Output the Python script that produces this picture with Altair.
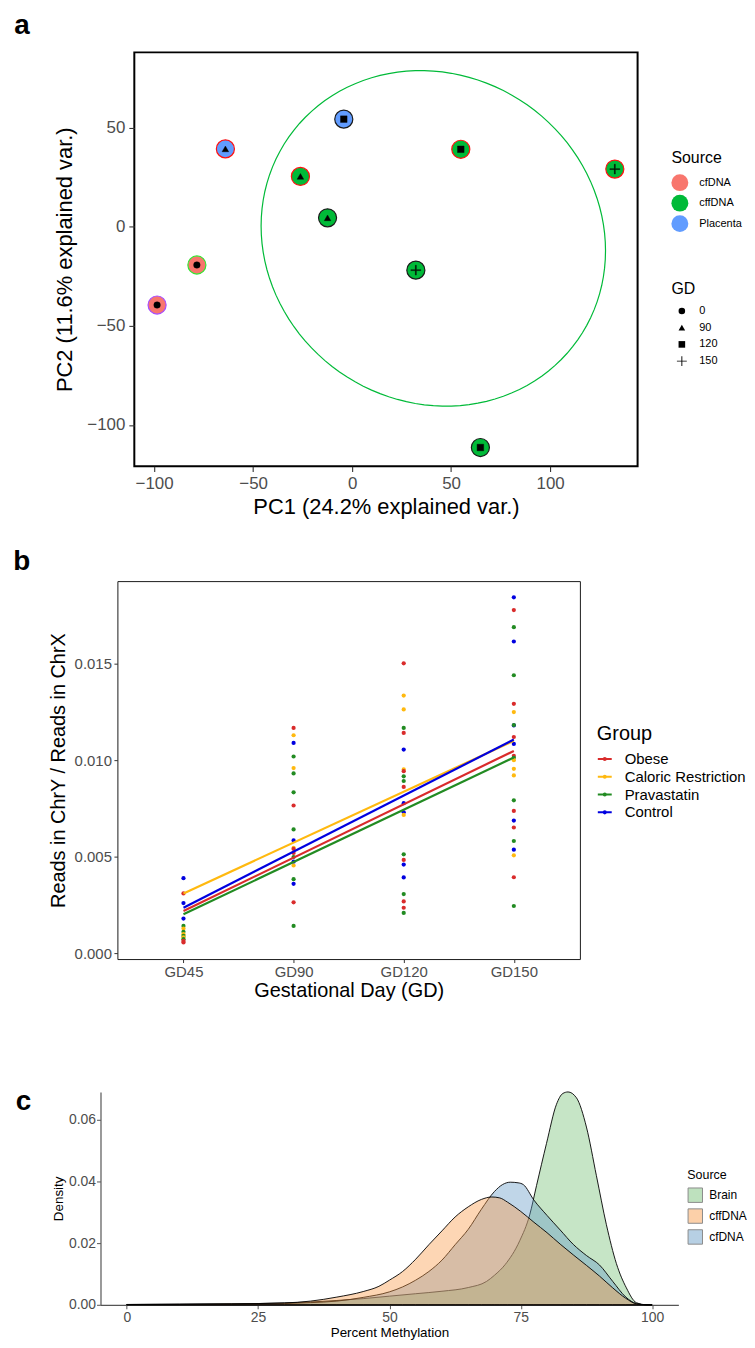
import altair as alt
import numpy as np
import pandas as pd

FONT = "Liberation Sans"
GREY = "#4D4D4D"

# ---------------- Panel a : PCA ----------------
pc1 = [-98.5, -78.4, -64.0, -26.1, -12.4, -4.2, 54.9, 132.7, 32.2, 64.8]
pc2 = [-39.5, -19.3, 39.3, 25.4, 4.5, 54.3, 39.1, 29.1, -21.9, -111.4]
source_a = ["cfDNA", "cfDNA", "Placenta", "cffDNA", "cffDNA", "Placenta",
            "cffDNA", "cffDNA", "cffDNA", "cffDNA"]
gd_a = [0, 0, 90, 90, 90, 120, 120, 150, 150, 120]
ring_a = ["g4", "g3", "g1", "g1", "g2", "g2", "g1", "g1", "g2", "g2"]
source_levels = ["cfDNA", "cffDNA", "Placenta"]
gd_levels = [0, 90, 120, 150]
ellipse_group = "cffDNA"
ellipse_prob = 0.68

dfa = pd.DataFrame({"PC1": pc1, "PC2": pc2, "Source": source_a, "GD": gd_a, "Ring": ring_a})

# normal-probability ellipse of the cffDNA group (as ggbiplot does)
sel = dfa[dfa["Source"] == ellipse_group][["PC1", "PC2"]].to_numpy()
mu = sel.mean(axis=0)
sigma = np.cov(sel.T)
ed = np.sqrt(-2.0 * np.log(1.0 - ellipse_prob))
theta = np.linspace(-np.pi, np.pi, 121)
circ = np.column_stack([np.cos(theta), np.sin(theta)])
ell = circ @ np.linalg.cholesky(sigma).T * ed + mu
dfe = pd.DataFrame({"PC1": ell[:, 0], "PC2": ell[:, 1], "i": np.arange(len(theta))})

SPACER_A, SPACER_B, SPACER_C = 35, 18, 1

xa = alt.Scale(domain=[-110, 144.2], nice=False, zero=False)
ya = alt.Scale(domain=[-120.8, 88], nice=False, zero=False)
axis_a_common = dict(grid=False, domain=False, tickColor="#333333", tickSize=5.5, tickWidth=1.1,
                     labelFontSize=17, labelColor=GREY, titleFontSize=22,
                     titleFontWeight="normal", titleColor="black")
xaxis_a = alt.Axis(title="PC1 (24.2% explained var.)", values=[-100, -50, 0, 50, 100],
                   labelPadding=3.5, titlePadding=6, **axis_a_common)
yaxis_a = alt.Axis(title="PC2 (11.6% explained var.)", values=[-100, -50, 0, 50],
                   labelPadding=4, titlePadding=10, **axis_a_common)

ellipse = alt.Chart(dfe).mark_line(color="#00BA38", strokeWidth=1.2).encode(
    x=alt.X("PC1:Q", scale=xa, axis=xaxis_a),
    y=alt.Y("PC2:Q", scale=ya, axis=yaxis_a),
    order="i:Q",
)

rings = alt.Chart(dfa).mark_point(filled=True, size=330, strokeWidth=1.2, opacity=1).encode(
    x=alt.X("PC1:Q", scale=xa, axis=xaxis_a),
    y=alt.Y("PC2:Q", scale=ya, axis=yaxis_a),
    color=alt.Color("Source:N",
                    scale=alt.Scale(domain=source_levels, range=["#F8766D", "#00BA38", "#619CFF"]),
                    legend=alt.Legend(title="Source", orient="none", legendX=540 + SPACER_A,
                                      legendY=98, padding=0, titleFontSize=16,
                                      titleFontWeight="normal", titleColor="black",
                                      titlePadding=8.5, labelFontSize=11, labelColor="black",
                                      labelOffset=11, symbolType="circle", symbolSize=289,
                                      symbolStrokeWidth=0, rowPadding=3.6)),
    stroke=alt.Stroke("Ring:N",
                      scale=alt.Scale(domain=["g1", "g2", "g3", "g4"],
                                      range=["#FF1010", "#1A1A1A", "#33E633", "#A64DFF"]),
                      legend=None),
)

# thin filled plus sign (ggplot shape 3)
PLUS = ("M-1.5,-0.14H-0.14V-1.5H0.14V-0.14H1.5V0.14H0.14V1.5H-0.14V0.14H-1.5Z")
shapes = alt.Chart(dfa).mark_point(filled=True, size=44, strokeWidth=0.4, opacity=1).encode(
    x=alt.X("PC1:Q", scale=xa, axis=xaxis_a),
    y=alt.Y("PC2:Q", scale=ya, axis=yaxis_a),
    fill=alt.value("black"),
    stroke=alt.value("black"),
    shape=alt.Shape("GD:N",
                    scale=alt.Scale(domain=gd_levels, range=["circle", "triangle-up", "square", PLUS]),
                    legend=alt.Legend(title="GD", orient="none", legendX=540 + SPACER_A,
                                      legendY=230, padding=0, titleFontSize=16,
                                      titleFontWeight="normal", titleColor="black",
                                      titlePadding=8.5, labelFontSize=11, labelColor="black",
                                      labelOffset=12, symbolSize=44, symbolOffset=5,
                                      symbolFillColor="black", symbolStrokeColor="black",
                                      symbolStrokeWidth=0.4, rowPadding=4.8)),
)


def panel_label(letter, dx, dy):
    return alt.Chart(pd.DataFrame({"panel": [letter]})).mark_text(
        fontSize=28, fontWeight="bold", align="left", baseline="alphabetic", color="black"
    ).encode(text="panel:N", x=alt.value(dx), y=alt.value(dy))


def spacer(w):
    return alt.Chart(pd.DataFrame({"v": [0]})).mark_point(opacity=0).encode(
        x=alt.value(0), y=alt.value(0)).properties(width=w, height=10)


chartA = alt.layer(ellipse, rings, shapes, panel_label("a", -120.6, -18)).properties(
    width=506, height=416, view=alt.ViewBackground(stroke="black", strokeWidth=2))

# ---------------- Panel b : ChrY / ChrX ----------------
gd_cats = ["GD45", "GD90", "GD120", "GD150"]
groups = ["Obese", "Caloric Restriction", "Pravastatin", "Control"]
group_colors = ["#D92B2B", "#FFB90F", "#228B22", "#0000E0"]

gd45_vals = [0.00388, 0.00309, 0.00259, 0.00179, 0.00141, 0.00127, 0.00110, 0.00098,
             0.00089, 0.00081, 0.00072, 0.00063, 0.00055]
gd45_grp = ["Control", "Obese", "Control", "Control", "Pravastatin", "Caloric Restriction",
            "Pravastatin", "Caloric Restriction", "Pravastatin", "Caloric Restriction",
            "Pravastatin", "Obese", "Obese"]
gd90_vals = [0.01167, 0.01129, 0.01089, 0.01019, 0.00959, 0.00931, 0.00833, 0.00765, 0.00641,
             0.00584, 0.00545, 0.00540, 0.00519, 0.00498, 0.00474, 0.00454, 0.00383, 0.00359,
             0.00263, 0.00141]
gd90_grp = ["Obese", "Caloric Restriction", "Control", "Pravastatin", "Caloric Restriction",
            "Pravastatin", "Pravastatin", "Obese", "Pravastatin", "Control",
            "Caloric Restriction", "Obese", "Obese", "Pravastatin", "Control",
            "Caloric Restriction", "Pravastatin", "Control", "Obese", "Pravastatin"]
gd120_vals = [0.01502, 0.01335, 0.01263, 0.01167, 0.01141, 0.01055, 0.00952, 0.00943, 0.00916,
              0.00892, 0.00861, 0.00777, 0.00730, 0.00716, 0.00512, 0.00483, 0.00459, 0.00392,
              0.00306, 0.00268, 0.00235, 0.00208]
gd120_grp = ["Obese", "Caloric Restriction", "Caloric Restriction", "Pravastatin", "Obese",
             "Control", "Caloric Restriction", "Obese", "Pravastatin", "Pravastatin", "Obese",
             "Control", "Control", "Caloric Restriction", "Pravastatin", "Obese", "Control",
             "Control", "Pravastatin", "Obese", "Obese", "Pravastatin"]
gd150_vals = [0.01844, 0.01778, 0.01689, 0.01615, 0.01440, 0.01292, 0.01249, 0.01180, 0.01182,
              0.01120, 0.01084, 0.01022, 0.01012, 0.01000, 0.00955, 0.00921, 0.00792, 0.00737,
              0.00687, 0.00651, 0.00581, 0.00536, 0.00507, 0.00393, 0.00244]
gd150_grp = ["Control", "Obese", "Pravastatin", "Control", "Pravastatin", "Obese",
             "Caloric Restriction", "Control", "Pravastatin", "Obese", "Control", "Obese",
             "Pravastatin", "Caloric Restriction", "Caloric Restriction", "Caloric Restriction",
             "Pravastatin", "Obese", "Control", "Obese", "Pravastatin", "Control",
             "Caloric Restriction", "Obese", "Pravastatin"]

# fitted (lm) line values at GD45 and GD150, per group
fit_start = [0.00218, 0.00309, 0.00201, 0.00235]
fit_end = [0.01048, 0.01100, 0.01014, 0.01107]

rows = []
for cat, vals, grps in [("GD45", gd45_vals, gd45_grp), ("GD90", gd90_vals, gd90_grp),
                        ("GD120", gd120_vals, gd120_grp), ("GD150", gd150_vals, gd150_grp)]:
    for v, g in zip(vals, grps):
        rows.append({"GD": cat, "ratio": v, "Group": g})
dfb = pd.DataFrame(rows)

line_rows = []
for g, s, e in zip(groups, fit_start, fit_end):
    line_rows.append({"GD": "GD45", "ratio": s, "Group": g})
    line_rows.append({"GD": "GD150", "ratio": e, "Group": g})
dfl = pd.DataFrame(line_rows)

xb = alt.Scale(type="point", domain=gd_cats, padding=0.6)
yb = alt.Scale(domain=[-0.00031, 0.01928], nice=False, zero=False)
axis_b_common = dict(grid=False, domain=False, tickColor="#333333", tickSize=3.5, tickWidth=1,
                     labelFontSize=15, labelColor=GREY, titleFontSize=20,
                     titleFontWeight="normal", titleColor="black")
xaxis_b = alt.Axis(title="Gestational Day (GD)", labelAngle=0, labelPadding=2.4,
                   titlePadding=1, **axis_b_common)
yaxis_b = alt.Axis(title="Reads in ChrY / Reads in ChrX", values=[0, 0.005, 0.01, 0.015],
                   format=".3f", labelPadding=2.5, titlePadding=5.5, **axis_b_common)
cscale_b = alt.Scale(domain=groups, range=group_colors)
LEG_B = "M-1,0H1M0.15,0A0.15,0.15,0,1,1,-0.15,0A0.15,0.15,0,1,1,0.15,0"
legend_b = alt.Legend(title="Group", orient="none", legendX=482 + SPACER_B, legendY=144,
                      padding=0, titleFontSize=20, titleFontWeight="normal", titleColor="black",
                      titlePadding=6.8, labelFontSize=15, labelColor="black", labelOffset=12,
                      symbolType=LEG_B, symbolSize=196, symbolStrokeWidth=2, rowPadding=1.9,
                      labelLimit=300)

pts_b = alt.Chart(dfb).mark_point(filled=True, size=18, opacity=1).encode(
    x=alt.X("GD:N", scale=xb, axis=xaxis_b, sort=gd_cats),
    y=alt.Y("ratio:Q", scale=yb, axis=yaxis_b),
    color=alt.Color("Group:N", scale=cscale_b, legend=legend_b),
)
lines_b = alt.Chart(dfl).mark_line(strokeWidth=2.2).encode(
    x=alt.X("GD:N", scale=xb, axis=xaxis_b, sort=gd_cats),
    y=alt.Y("ratio:Q", scale=yb, axis=yaxis_b),
    color=alt.Color("Group:N", scale=cscale_b, legend=legend_b),
    detail="Group:N",
)

chartB = alt.layer(pts_b, lines_b, panel_label("b", -104.6, -11.5)).properties(
    width=465, height=380, view=alt.ViewBackground(stroke="#1A1A1A", strokeWidth=1))

# ---------------- Panel c : methylation densities ----------------
brain_x = [0, 10, 20, 30, 35, 40, 45, 50, 55, 60, 65, 68.5, 70, 72, 74.8, 76.7, 78, 79.9,
           81.8, 83, 84, 85.6, 87.5, 89.4, 91.3, 93.2, 95.1, 97, 99, 100]
brain_y = [0.0001, 0.0002, 0.0003, 0.0006, 0.0009, 0.0014, 0.0020, 0.0028, 0.0036, 0.0044,
           0.0056, 0.0076, 0.0096, 0.0130, 0.0208, 0.0292, 0.0387, 0.0524, 0.0651, 0.0686,
           0.0691, 0.0672, 0.0577, 0.0419, 0.0260, 0.0134, 0.0055, 0.0007, 0.0, 0.0]
cff_x = [0, 10, 20, 30, 35, 40, 45, 48, 50, 52.5, 55, 57.5, 60, 62.5, 65, 67.5, 69.5, 71,
         72.5, 75, 77.5, 80, 82.5, 85, 87.5, 90, 92.5, 95, 97, 99, 100]
cff_y = [0.0001, 0.0002, 0.0003, 0.0006, 0.0012, 0.0025, 0.0043, 0.0060, 0.0080, 0.0108,
         0.0148, 0.0195, 0.0240, 0.0285, 0.0318, 0.0342, 0.0350, 0.0347, 0.0333, 0.0303,
         0.0268, 0.0234, 0.0197, 0.0162, 0.0128, 0.0093, 0.0055, 0.0021, 0.0003, 0.0, 0.0]
cf_x = [0, 10, 20, 30, 35, 40, 45, 50, 52.5, 55, 57.5, 60, 62.5, 65, 67.5, 70, 71.5, 73,
        74.5, 75.5, 77.5, 80, 82.5, 85, 87.5, 90, 92.5, 95, 97, 99, 100]
cf_y = [0.0001, 0.0001, 0.0002, 0.0004, 0.0007, 0.0012, 0.0024, 0.0042, 0.0058, 0.0080,
        0.0108, 0.0145, 0.0195, 0.0245, 0.0310, 0.0368, 0.0390, 0.0398, 0.0396, 0.0390,
        0.0340, 0.0290, 0.0243, 0.0196, 0.0160, 0.0129, 0.0076, 0.0025, 0.0004, 0.0, 0.0]

dens_levels = ["Brain", "cffDNA", "cfDNA"]
dens_colors = ["#70BE70", "#FA9843", "#6198C5"]
dens = {
    "Brain": pd.DataFrame({"pct": brain_x, "density": brain_y, "Source": "Brain"}),
    "cffDNA": pd.DataFrame({"pct": cff_x, "density": cff_y, "Source": "cffDNA"}),
    "cfDNA": pd.DataFrame({"pct": cf_x, "density": cf_y, "Source": "cfDNA"}),
}

xc = alt.Scale(domain=[-5, 105], nice=False, zero=False)
yc = alt.Scale(domain=[0, 0.0691], nice=False, zero=False)
axis_c_common = dict(grid=False, domain=True, domainColor="#555555", domainWidth=1.2,
                     tickColor="#555555", tickSize=4, tickWidth=1, labelFontSize=14,
                     labelColor=GREY, titleFontSize=13.5, titleFontWeight="normal",
                     titleColor="black")
xaxis_c = alt.Axis(title="Percent Methylation", values=[0, 25, 50, 75, 100], labelPadding=1.5,
                   titlePadding=1, **axis_c_common)
yaxis_c = alt.Axis(title="Density", values=[0, 0.02, 0.04, 0.06], format=".2f",
                   labelPadding=1, titlePadding=3, **axis_c_common)
legend_c = alt.Legend(title="Source", orient="none", legendX=590 + SPACER_C, legendY=78,
                      padding=0, titleFontSize=12.5, titleFontWeight="normal", titleColor="black",
                      titlePadding=5.3, labelFontSize=12, labelColor="black", labelOffset=6,
                      symbolType="square", symbolSize=210, symbolStrokeColor="black",
                      symbolStrokeWidth=1, rowPadding=1, symbolOpacity=0.45)
cscale_c = alt.Scale(domain=dens_levels, range=dens_colors)


def dens_layer(name):
    return alt.Chart(dens[name]).mark_area(
        fillOpacity=0.4, stroke="black", strokeWidth=0.9, interpolate="monotone"
    ).encode(
        x=alt.X("pct:Q", scale=xc, axis=xaxis_c),
        y=alt.Y("density:Q", scale=yc, axis=yaxis_c, stack=None),
        color=alt.Color("Source:N", scale=cscale_c, legend=legend_c),
    )


# an empty-looking text (a single space) that only reserves the gap above panel c
gap_c = alt.Chart(pd.DataFrame({"t": [" "]})).mark_text(
    fontSize=10, align="left", baseline="top").encode(
    text="t:N", x=alt.value(0), y=alt.value(-61.5))

chartC = alt.layer(dens_layer("Brain"), dens_layer("cfDNA"), dens_layer("cffDNA"),
                   panel_label("c", -85.3, 18), gap_c).properties(width=581, height=214)

rowA = alt.hconcat(spacer(SPACER_A), chartA, spacing=0, bounds="flush")
rowB = alt.hconcat(spacer(SPACER_B), chartB, spacing=0, bounds="flush")
rowC = alt.hconcat(spacer(SPACER_C), chartC, spacing=0, bounds="flush")

chart = alt.vconcat(rowA, rowB, rowC, spacing=28.6).resolve_scale(
    color="independent", shape="independent", stroke="independent"
).properties(
    padding={"left": 4, "top": 0, "right": 0, "bottom": 0}
).configure(font=FONT).configure_view(stroke=None)

chart.save("out.html", embed_options={"renderer": "svg", "actions": False})
